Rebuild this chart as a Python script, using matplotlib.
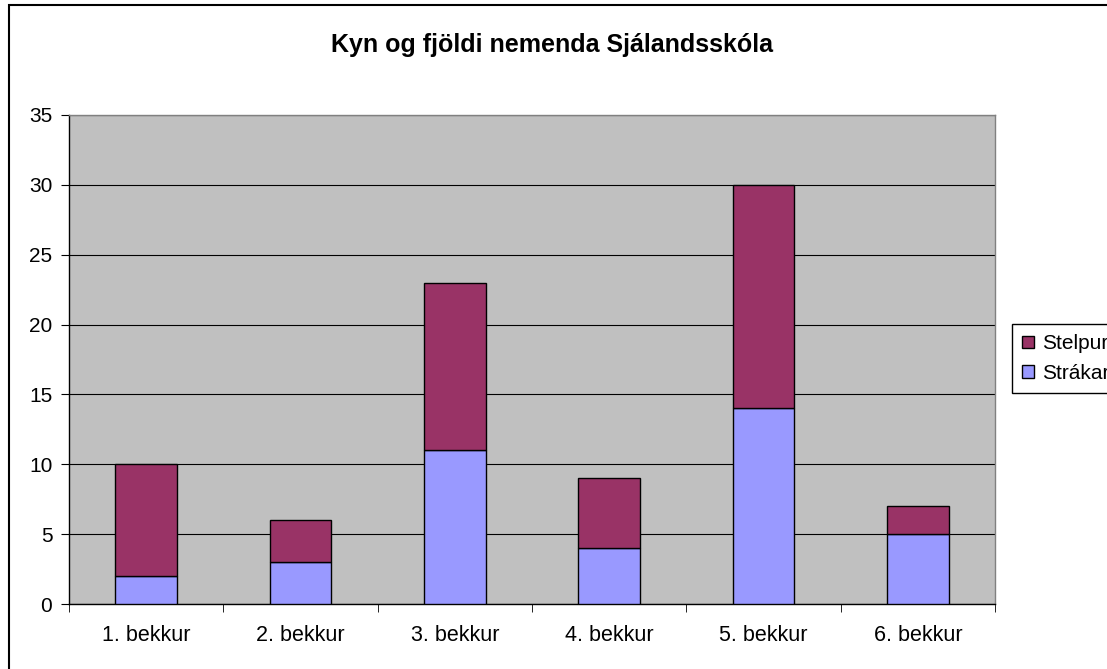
import matplotlib.pyplot as plt
from matplotlib.patches import Rectangle
import numpy as np

plt.rcParams['font.family'] = ['Liberation Sans', 'DejaVu Sans']

categories = ["1. bekkur", "2. bekkur", "3. bekkur", "4. bekkur", "5. bekkur", "6. bekkur"]
strakar = [2, 3, 11, 4, 14, 5]
stelpur = [8, 3, 12, 5, 16, 2]
title = "Kyn og fjöldi nemenda Sjálandsskóla"

W, H = 1107, 669
fig = plt.figure(figsize=(W / 100, H / 100), dpi=100)

# outer chart border (runs off the right and bottom edges)
fig.patches.append(Rectangle((9 / W, -0.2), 1.3, 1.2 - 5 / H, transform=fig.transFigure,
                             fill=False, edgecolor="#000000", linewidth=1.5))

ax = fig.add_axes([69 / W, 1 - 604 / H, (995 - 69) / W, (604 - 115) / H])
ax.set_facecolor("#C0C0C0")

x = np.arange(len(categories))
b1 = ax.bar(x, strakar, width=0.4, color="#9999FF", edgecolor="black", linewidth=1,
            label="Strákar", zorder=3)
b2 = ax.bar(x, stelpur, width=0.4, bottom=strakar, color="#993366", edgecolor="black",
            linewidth=1, label="Stelpur", zorder=3)

ax.set_xlim(-0.5, len(categories) - 0.5)
ax.set_ylim(0, 35)
ax.set_yticks(np.arange(0, 36, 5))
ax.yaxis.grid(True, color="black", linewidth=0.8, zorder=1)
ax.set_axisbelow(True)

ax.set_xticks(x)
ax.set_xticklabels(categories)
ax.set_xticks(np.arange(-0.5, len(categories), 1), minor=True)
ax.tick_params(axis="x", which="major", length=0, pad=15, labelsize=15.5)
ax.tick_params(axis="x", which="minor", length=6, direction="out", color="black")
ax.tick_params(axis="y", length=6, direction="out", labelsize=15, pad=6)

ax.spines["left"].set_color("black")
ax.spines["bottom"].set_color("black")
ax.spines["top"].set_color("#808080")
ax.spines["right"].set_color("#808080")
for s in ax.spines.values():
    s.set_linewidth(1)

fig.text(552 / W, 1 - 45 / H, title, ha="center", va="center", fontsize=18,
         fontweight="bold")

leg = ax.legend([b2, b1], ["Stelpur", "Strákar"], loc="upper left",
                bbox_to_anchor=(1012 / W, 1 - 324 / H), bbox_transform=fig.transFigure,
                fancybox=False, edgecolor="black", fontsize=15, handlelength=0.55,
                handleheight=0.55, handletextpad=0.4, borderaxespad=0, framealpha=1,
                labelspacing=0.5, borderpad=0.5)
leg.get_frame().set_linewidth(1)

fig.savefig("out.png", dpi=100)
